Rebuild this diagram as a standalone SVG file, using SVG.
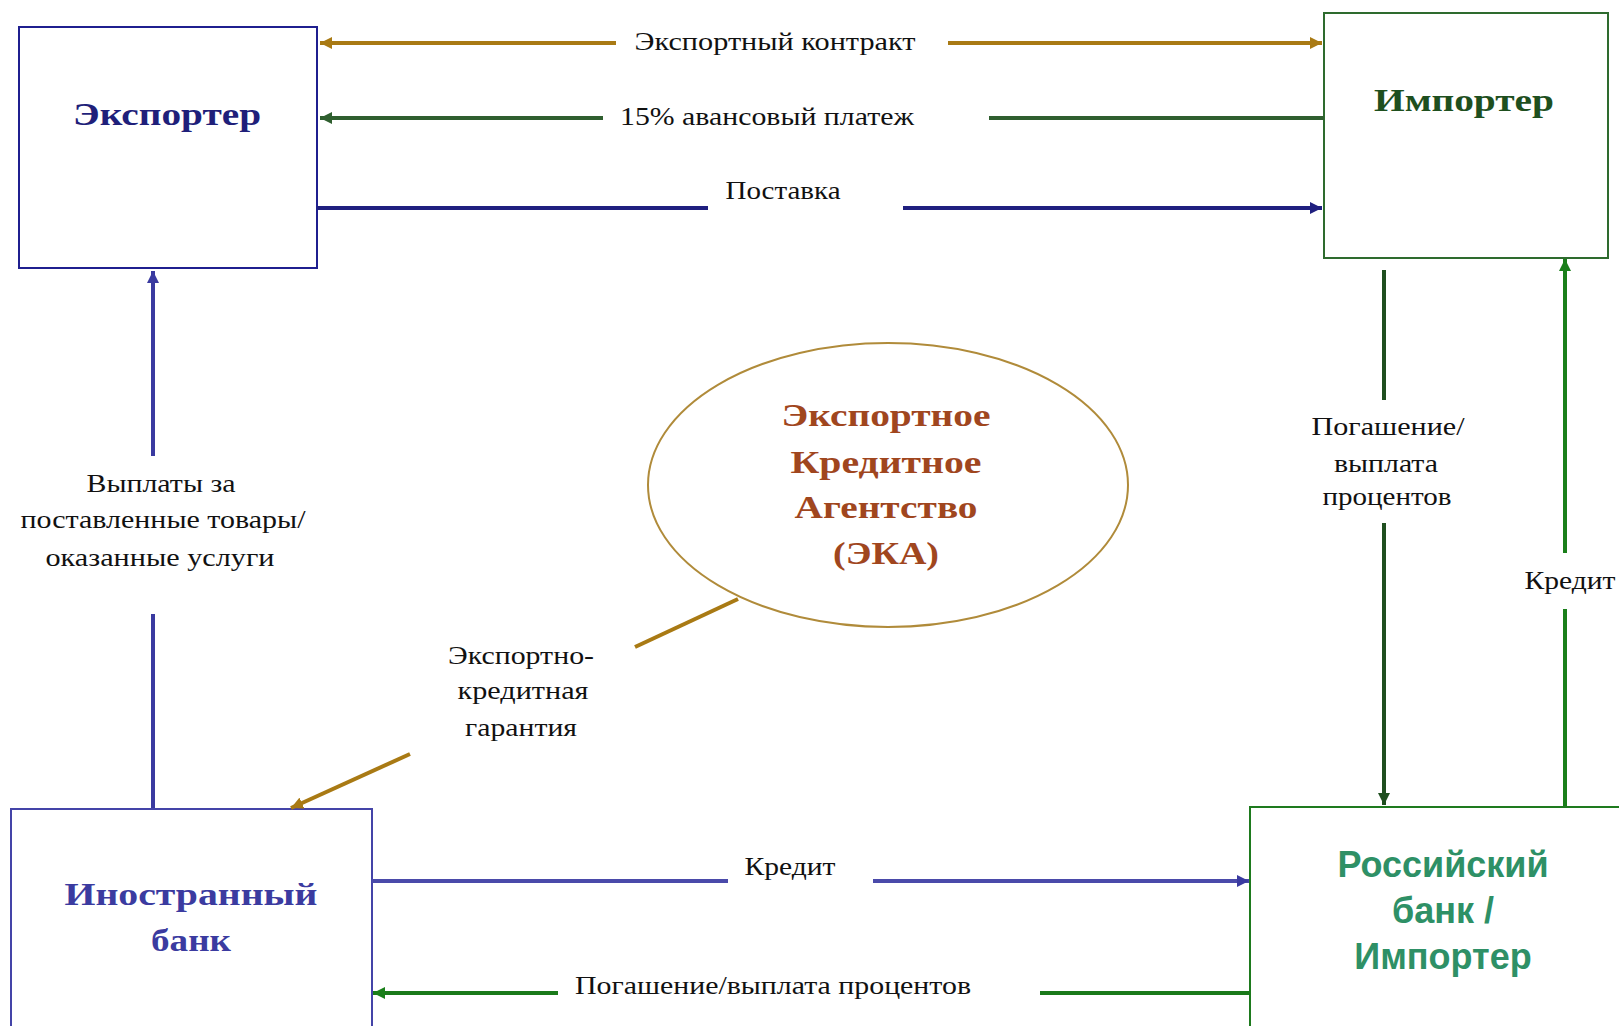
<svg xmlns="http://www.w3.org/2000/svg" width="1619" height="1026" viewBox="0 0 1619 1026">
<style>
.lbl{font-family:"Liberation Serif","Times New Roman",serif;font-size:26px;fill:#111;text-anchor:middle}
.nt{font-family:"Liberation Serif","Times New Roman",serif;font-size:32px;font-weight:bold;text-anchor:middle}
.ns{font-family:"Liberation Sans",Arial,sans-serif;font-size:36px;font-weight:bold;text-anchor:middle;fill:#2E9066}
.c{fill:none;stroke-width:4}
</style>
<defs>
<marker id="aGold" markerUnits="userSpaceOnUse" markerWidth="14" markerHeight="12" refX="12" refY="6" orient="auto"><path d="M0,0 L12,6 L0,12 z" fill="#A97A14"/></marker>
<marker id="aDG" markerUnits="userSpaceOnUse" markerWidth="14" markerHeight="12" refX="12" refY="6" orient="auto"><path d="M0,0 L12,6 L0,12 z" fill="#2F5F2F"/></marker>
<marker id="aNavy" markerUnits="userSpaceOnUse" markerWidth="14" markerHeight="12" refX="12" refY="6" orient="auto"><path d="M0,0 L12,6 L0,12 z" fill="#1F1F7F"/></marker>
<marker id="aBlue" markerUnits="userSpaceOnUse" markerWidth="14" markerHeight="12" refX="12" refY="6" orient="auto"><path d="M0,0 L12,6 L0,12 z" fill="#3A3AA0"/></marker>
<marker id="aDG2" markerUnits="userSpaceOnUse" markerWidth="14" markerHeight="12" refX="12" refY="6" orient="auto"><path d="M0,0 L12,6 L0,12 z" fill="#1F4F1F"/></marker>
<marker id="aG" markerUnits="userSpaceOnUse" markerWidth="14" markerHeight="12" refX="12" refY="6" orient="auto"><path d="M0,0 L12,6 L0,12 z" fill="#1A7F1A"/></marker>
</defs>
<rect width="1619" height="1026" fill="#fff"/>

<g id="exporter">
<rect x="19" y="27" width="298" height="241" fill="#fff" stroke="#1F1F8F" stroke-width="2"/>
<text class="nt" x="167" y="125" fill="#1F1F7A" textLength="188" lengthAdjust="spacingAndGlyphs">Экспортер</text>
</g>
<g id="importer">
<rect x="1324" y="13" width="284" height="245" fill="#fff" stroke="#2E6B2E" stroke-width="2"/>
<text class="nt" x="1464" y="111" fill="#1E4F1E" textLength="180" lengthAdjust="spacingAndGlyphs">Импортер</text>
</g>
<g id="eca">
<ellipse cx="888" cy="485" rx="240" ry="142" fill="#fff" stroke="#B08B3A" stroke-width="2"/>
<text class="nt" fill="#A0461E"><tspan x="886" y="426" textLength="209" lengthAdjust="spacingAndGlyphs">Экспортное</tspan><tspan x="886" y="473" textLength="191" lengthAdjust="spacingAndGlyphs">Кредитное</tspan><tspan x="886" y="518" textLength="183" lengthAdjust="spacingAndGlyphs">Агентство</tspan><tspan x="886" y="564" textLength="106" lengthAdjust="spacingAndGlyphs">(ЭКА)</tspan></text>
</g>
<g id="foreign-bank">
<rect x="11" y="809" width="361" height="240" fill="#fff" stroke="#4444A8" stroke-width="2"/>
<text class="nt" fill="#3B3BA0"><tspan x="191" y="905" textLength="253" lengthAdjust="spacingAndGlyphs">Иностранный</tspan><tspan x="191" y="951" textLength="80" lengthAdjust="spacingAndGlyphs">банк</tspan></text>
</g>
<g id="russian-bank">
<rect x="1250" y="807" width="400" height="240" fill="#fff" stroke="#1E7A1E" stroke-width="2"/>
<text class="ns"><tspan x="1443" y="877">Российский</tspan><tspan x="1443" y="923">банк /</tspan><tspan x="1443" y="969">Импортер</tspan></text>
</g>

<g id="connectors">
<line class="c" x1="616" y1="43" x2="320" y2="43" stroke="#A97A14" marker-end="url(#aGold)"/>
<line class="c" x1="948" y1="43" x2="1322" y2="43" stroke="#A97A14" marker-end="url(#aGold)"/>
<line class="c" x1="603" y1="118" x2="320" y2="118" stroke="#2F5F2F" marker-end="url(#aDG)"/>
<line class="c" x1="989" y1="118" x2="1324" y2="118" stroke="#2F5F2F"/>
<line class="c" x1="317" y1="208" x2="708" y2="208" stroke="#1F1F7F"/>
<line class="c" x1="903" y1="208" x2="1322" y2="208" stroke="#1F1F7F" marker-end="url(#aNavy)"/>
<line class="c" x1="153" y1="456" x2="153" y2="271" stroke="#3A3AA0" marker-end="url(#aBlue)"/>
<line class="c" x1="153" y1="614" x2="153" y2="808" stroke="#3A3AA0"/>
<line class="c" x1="1384" y1="270" x2="1384" y2="400" stroke="#1F4F1F"/>
<line class="c" x1="1384" y1="523" x2="1384" y2="805" stroke="#1F4F1F" marker-end="url(#aDG2)"/>
<line class="c" x1="1565" y1="806" x2="1565" y2="609" stroke="#1A7F1A"/>
<line class="c" x1="1565" y1="553" x2="1565" y2="259" stroke="#1A7F1A" marker-end="url(#aG)"/>
<line class="c" x1="738" y1="599" x2="635" y2="647" stroke="#A97A14"/>
<line class="c" x1="410" y1="754" x2="291" y2="808" stroke="#A97A14" marker-end="url(#aGold)"/>
<line class="c" x1="372" y1="881" x2="728" y2="881" stroke="#4A4AAA"/>
<line class="c" x1="873" y1="881" x2="1249" y2="881" stroke="#4A4AAA" marker-end="url(#aBlue)"/>
<line class="c" x1="558" y1="993" x2="373" y2="993" stroke="#1A7A1A" marker-end="url(#aG)"/>
<line class="c" x1="1040" y1="993" x2="1250" y2="993" stroke="#1A7A1A"/>

<text class="lbl" x="775" y="50" textLength="281" lengthAdjust="spacingAndGlyphs">Экспортный контракт</text>
<text class="lbl" x="767" y="125" textLength="294" lengthAdjust="spacingAndGlyphs">15% авансовый платеж</text>
<text class="lbl" x="783" y="199" textLength="115" lengthAdjust="spacingAndGlyphs">Поставка</text>
<text class="lbl"><tspan x="161" y="492" textLength="149" lengthAdjust="spacingAndGlyphs">Выплаты за</tspan><tspan x="163" y="528" textLength="285" lengthAdjust="spacingAndGlyphs">поставленные товары/</tspan><tspan x="160" y="566" textLength="229" lengthAdjust="spacingAndGlyphs">оказанные услуги</tspan></text>
<text class="lbl"><tspan x="1388" y="435" textLength="153" lengthAdjust="spacingAndGlyphs">Погашение/</tspan><tspan x="1386" y="472" textLength="104" lengthAdjust="spacingAndGlyphs">выплата</tspan><tspan x="1387" y="505" textLength="129" lengthAdjust="spacingAndGlyphs">процентов</tspan></text>
<text class="lbl" x="1570" y="589" textLength="91" lengthAdjust="spacingAndGlyphs">Кредит</text>
<text class="lbl"><tspan x="521" y="664" textLength="146" lengthAdjust="spacingAndGlyphs">Экспортно-</tspan><tspan x="523" y="699" textLength="131" lengthAdjust="spacingAndGlyphs">кредитная</tspan><tspan x="521" y="736" textLength="112" lengthAdjust="spacingAndGlyphs">гарантия</tspan></text>
<text class="lbl" x="790" y="875" textLength="91" lengthAdjust="spacingAndGlyphs">Кредит</text>
<text class="lbl" x="773" y="994" textLength="396" lengthAdjust="spacingAndGlyphs">Погашение/выплата процентов</text>
</g>
</svg>
